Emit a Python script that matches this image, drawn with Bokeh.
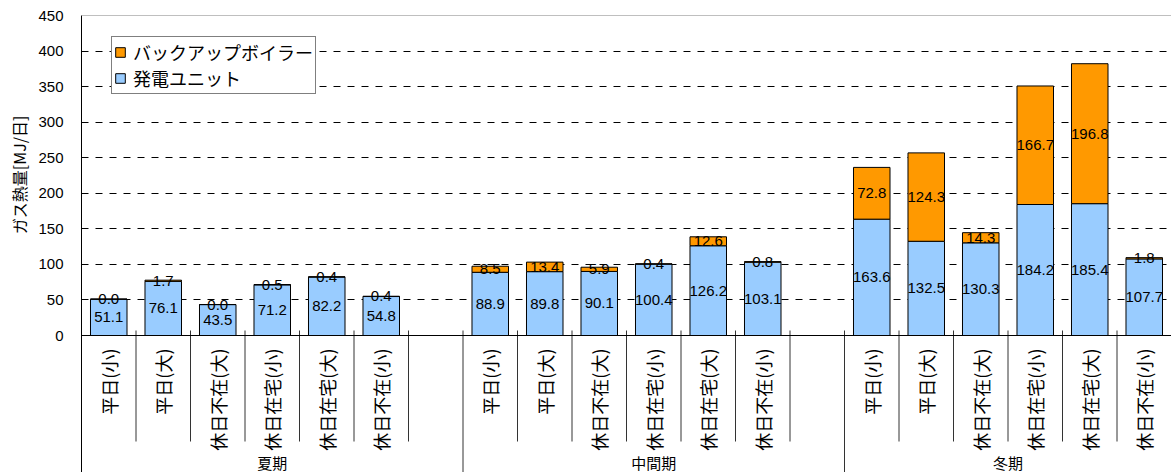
import math

from bokeh.core.properties import value
from bokeh.embed import file_html
from bokeh.models import ColumnDataSource, FixedTicker, Legend, LegendItem, Range1d, Span, Title
from bokeh.plotting import figure
from bokeh.resources import INLINE

# ---- data -----------------------------------------------------------------
seasons = ["夏期", "中間期", "冬期"]
patterns = ["平日(小)", "平日(大)", "休日不在(大)", "休日在宅(小)", "休日在宅(大)", "休日不在(小)"]

unit_summer = [51.1, 76.1, 43.5, 71.2, 82.2, 54.8]
boiler_summer = [0.0, 1.7, 0.0, 0.5, 0.4, 0.4]
unit_mid = [88.9, 89.8, 90.1, 100.4, 126.2, 103.1]
boiler_mid = [8.5, 13.4, 5.9, 0.4, 12.6, 0.8]
unit_winter = [163.6, 132.5, 130.3, 184.2, 185.4, 107.7]
boiler_winter = [72.8, 124.3, 14.3, 166.7, 196.8, 1.8]

series_names = ["バックアップボイラー", "発電ユニット"]
y_ticks = [0, 50, 100, 150, 200, 250, 300, 350, 400, 450]
y_title = "ガス熱量[MJ/日]"

# ---- layout ---------------------------------------------------------------
JP = "Noto Sans CJK JP"
NUM = "Liberation Sans"
ORANGE = "#FF9900"
BLUE = "#99CCFF"

W, H = 1171, 472
LEFT, TOP = 81, 15
frame_h = H - TOP
y_top = y_ticks[-1]
px_per_unit = 320 / y_top          # 0..450 spans 320 px
y_bottom = y_top - frame_h / px_per_unit

def px(v):
    """pixel distance -> data units on the value axis"""
    return v / px_per_unit

slots = len(patterns) + 1            # one empty slot after each season
x_end = len(seasons) * slots - 1     # trailing empty slot left out
bar_w = 0.67

units = [unit_summer, unit_mid, unit_winter]
boilers = [boiler_summer, boiler_mid, boiler_winter]

xs, u_vals, b_vals, cats = [], [], [], []
for gi in range(len(seasons)):
    for pi_, name in enumerate(patterns):
        xs.append(gi * slots + pi_ + 0.5)
        u_vals.append(units[gi][pi_])
        b_vals.append(boilers[gi][pi_])
        cats.append(name)

src = ColumnDataSource(dict(
    x=xs,
    unit=u_vals,
    boiler=b_vals,
    total=[u + b for u, b in zip(u_vals, b_vals)],
    zero=[0] * len(xs),
    unit_mid=[u / 2 for u in u_vals],
    boiler_mid=[u + b / 2 for u, b in zip(u_vals, b_vals)],
    unit_lbl=[f"{u:.1f}" for u in u_vals],
    boiler_lbl=[f"{b:.1f}" for b in b_vals],
    cat=cats,
    cat_y=[-px(13)] * len(xs),
))

p = figure(
    width=W, height=H,
    x_range=Range1d(0, x_end), y_range=Range1d(y_bottom, y_top),
    x_axis_type=None,
    output_backend="svg", toolbar_location=None,
    min_border_left=LEFT, min_border_right=0,
    min_border_top=TOP, min_border_bottom=0,
)
p.outline_line_color = None
p.background_fill_color = "white"
p.border_fill_color = "white"

# value axis
ax = p.yaxis[0]
ax.ticker = FixedTicker(ticks=y_ticks)
ax.major_tick_out = 0
ax.major_tick_in = 0
ax.minor_tick_out = 0
ax.minor_tick_in = 0
ax.axis_line_color = "black"
ax.major_label_standoff = 18
ax.major_label_text_font = NUM
ax.major_label_text_font_size = "15px"
ax.major_label_text_color = "black"

# axis title, placed along the 0..450 part of the value axis
p.add_layout(Title(
    text=y_title, align="right", offset=100, standoff=9,
    text_font=JP, text_font_size="16px", text_font_style="normal",
    text_color="black",
), "left")

p.xgrid.visible = False
p.ygrid.ticker = FixedTicker(ticks=y_ticks[1:-1])
p.ygrid.grid_line_color = "black"
p.ygrid.grid_line_dash = "7 7"
p.ygrid.grid_line_width = 1

# stacked bars
r_unit = p.vbar(x="x", width=bar_w, bottom="zero", top="unit", source=src,
                fill_color=BLUE, line_color="black", line_width=1)
r_boiler = p.vbar(x="x", width=bar_w, bottom="unit", top="total", source=src,
                  fill_color=ORANGE, line_color="black", line_width=1)

# segment values
for ycol, tcol in (("unit_mid", "unit_lbl"), ("boiler_mid", "boiler_lbl")):
    p.text(x="x", y=ycol, text=tcol, source=src,
           text_align="center", text_baseline="middle",
           text_font=value(NUM), text_font_size="15px", text_color="black")

# category axis line and top border
p.add_layout(Span(location=0, dimension="width", line_color="black", line_width=1))
p.add_layout(Span(location=y_top, dimension="width", line_color="#808080", line_width=1))

# category separators: short between patterns, long between seasons
short_x, long_x = [], []
for i in range(1, x_end + 1):
    (long_x if i % slots == 0 else short_x).append(i)
p.segment(x0=short_x, y0=[px(5)] * len(short_x), x1=short_x, y1=[-px(106)] * len(short_x),
          line_color="#333333", line_width=1)
p.segment(x0=long_x, y0=[px(5)] * len(long_x), x1=long_x, y1=[y_bottom] * len(long_x),
          line_color="#333333", line_width=1)

# rotated pattern labels
p.text(x="x", y="cat_y", text="cat", source=src, angle=math.pi / 2,
       text_align="right", text_baseline="middle",
       text_font=value(JP), text_font_size="18px", text_color="black")

# season labels, centred on the visible part of each group
g_x = [(gi * slots + min((gi + 1) * slots, x_end)) / 2 for gi in range(len(seasons))]
p.text(x=g_x, y=[-px(127)] * len(seasons), text=seasons,
       text_align="center", text_baseline="middle",
       text_font=value(JP), text_font_size="15px", text_color="black")

legend = Legend(
    items=[LegendItem(label=series_names[0], renderers=[r_boiler]),
           LegendItem(label=series_names[1], renderers=[r_unit])],
    location=(30, H - 94),
    border_line_color="black", border_line_width=1,
    background_fill_color="white", background_fill_alpha=1,
    label_text_font=JP, label_text_font_size="18px", label_text_color="black",
    label_text_line_height=1.0,
    glyph_width=12, glyph_height=12, label_standoff=7,
    padding=2, spacing=0, margin=0, label_height=22,
)
p.add_layout(legend)

open("out.html", "w").write(file_html(p, INLINE))
